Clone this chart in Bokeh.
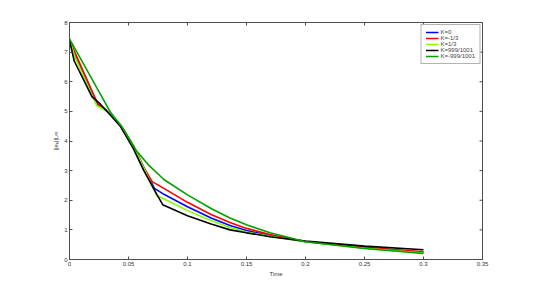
import math
from bokeh.plotting import figure
from bokeh.models import FixedTicker, Range1d, Legend, LegendItem, Label
from bokeh.embed import file_html
from bokeh.resources import INLINE

# data
t_k0 = [0, 0.005, 0.024, 0.033, 0.043, 0.054, 0.063, 0.072, 0.08, 0.1, 0.12, 0.136, 0.15, 0.17, 0.2, 0.25, 0.3]
v_k0 = [7.4, 6.85, 5.22, 4.98, 4.55, 3.85, 3.1, 2.4, 2.2, 1.78, 1.4, 1.15, 0.98, 0.8, 0.6, 0.4, 0.24]

t_km13 = [0, 0.005, 0.024, 0.033, 0.043, 0.054, 0.063, 0.07, 0.08, 0.1, 0.12, 0.136, 0.15, 0.17, 0.2, 0.25, 0.3]
v_km13 = [7.4, 6.95, 5.25, 4.98, 4.55, 3.85, 3.1, 2.63, 2.4, 1.93, 1.52, 1.25, 1.05, 0.84, 0.61, 0.4, 0.26]

t_k13 = [0, 0.005, 0.023, 0.033, 0.043, 0.054, 0.063, 0.074, 0.08, 0.1, 0.12, 0.136, 0.15, 0.17, 0.2, 0.25, 0.3]
v_k13 = [7.4, 6.8, 5.2, 4.98, 4.55, 3.85, 3.08, 2.15, 2.05, 1.65, 1.32, 1.08, 0.93, 0.78, 0.6, 0.38, 0.22]

t_k999 = [0, 0.004, 0.019, 0.026, 0.033, 0.043, 0.054, 0.063, 0.074, 0.079, 0.1, 0.12, 0.136, 0.15, 0.17, 0.2, 0.25, 0.3]
v_k999 = [7.4, 6.7, 5.5, 5.25, 4.95, 4.5, 3.75, 3.0, 2.2, 1.85, 1.48, 1.2, 1.0, 0.9, 0.77, 0.62, 0.45, 0.33]

t_km999 = [0, 0.035, 0.045, 0.057, 0.068, 0.08, 0.1, 0.12, 0.136, 0.15, 0.17, 0.2, 0.25, 0.3]
v_km999 = [7.45, 4.95, 4.45, 3.65, 3.15, 2.7, 2.18, 1.72, 1.4, 1.17, 0.9, 0.6, 0.37, 0.2]

labels = ["K=0", "K=-1/3", "K=1/3", "K=999/1001", "K=-999/1001"]
colors = ["#0000ff", "#ff0000", "#80ff00", "#000000", "#00a000"]
series = [(t_k0, v_k0), (t_km13, v_km13), (t_k13, v_k13), (t_k999, v_k999), (t_km999, v_km999)]

x_ticks = [0, 0.05, 0.1, 0.15, 0.2, 0.25, 0.3, 0.35]
x_tick_labels = ["0", "0.05", "0.1", "0.15", "0.2", "0.25", "0.3", "0.35"]
y_ticks = [0, 1, 2, 3, 4, 5, 6, 7, 8]
x_min, x_max = 0, 0.35
y_min, y_max = 0, 8

FONT = "Liberation Sans"
AX = "#4d4d4d"
TXT = "#333333"

p = figure(width=518, height=279, output_backend="svg", toolbar_location=None,
           x_range=Range1d(x_min, x_max), y_range=Range1d(y_min, y_max),
           min_border_left=69, min_border_right=36, min_border_top=22, min_border_bottom=17)
p.grid.visible = False
p.outline_line_color = AX
p.outline_line_width = 1

items = []
for (tt, vv), c, lab in zip(series, colors, labels):
    r = p.line(tt, vv, line_color=c, line_width=1.6)
    items.append(LegendItem(label=lab, renderers=[r]))

# inward tick marks on top and right edges (MATLAB box style)
p.ray(x=x_ticks, y=[y_max] * len(x_ticks), length=3, length_units="screen",
      angle=-math.pi / 2, line_color=AX, line_width=1)
p.ray(x=[x_max] * len(y_ticks), y=y_ticks, length=3, length_units="screen",
      angle=math.pi, line_color=AX, line_width=1)

for ax in (p.xaxis[0], p.yaxis[0]):
    ax.axis_line_color = AX
    ax.major_tick_line_color = AX
    ax.major_tick_in = 3
    ax.major_tick_out = 0
    ax.minor_tick_line_color = None
    ax.major_label_text_font = FONT
    ax.major_label_text_font_size = "6px"
    ax.major_label_text_color = TXT
    ax.major_label_standoff = 2
    ax.axis_label_text_font = FONT
    ax.axis_label_text_font_size = "6px"
    ax.axis_label_text_font_style = "normal"
    ax.axis_label_text_color = TXT
    ax.axis_label_standoff = 2

p.xaxis.ticker = FixedTicker(ticks=x_ticks)
p.xaxis.major_label_overrides = {t: s for t, s in zip(x_ticks, x_tick_labels)}
p.yaxis.ticker = FixedTicker(ticks=y_ticks)
p.xaxis.axis_label = "Time"
p.yaxis.axis_label = "||eₕ||L∞"

title = Label(x=(x_min + x_max) / 2, y=y_max, y_offset=4, text="Case 3",
              text_align="center", text_baseline="bottom",
              text_font=FONT, text_font_size="6px", text_color=TXT)
p.add_layout(title)

leg = Legend(items=items, location="top_right")
leg.label_text_font = FONT
leg.label_text_font_size = "6px"
leg.label_height = 6
leg.glyph_height = 6
leg.glyph_width = 13
leg.spacing = 0
leg.padding = 4
leg.margin = 2
leg.label_standoff = 2
leg.border_line_color = "#666666"
leg.border_line_width = 1
p.add_layout(leg)

open("out.html", "w").write(file_html(p, INLINE))
